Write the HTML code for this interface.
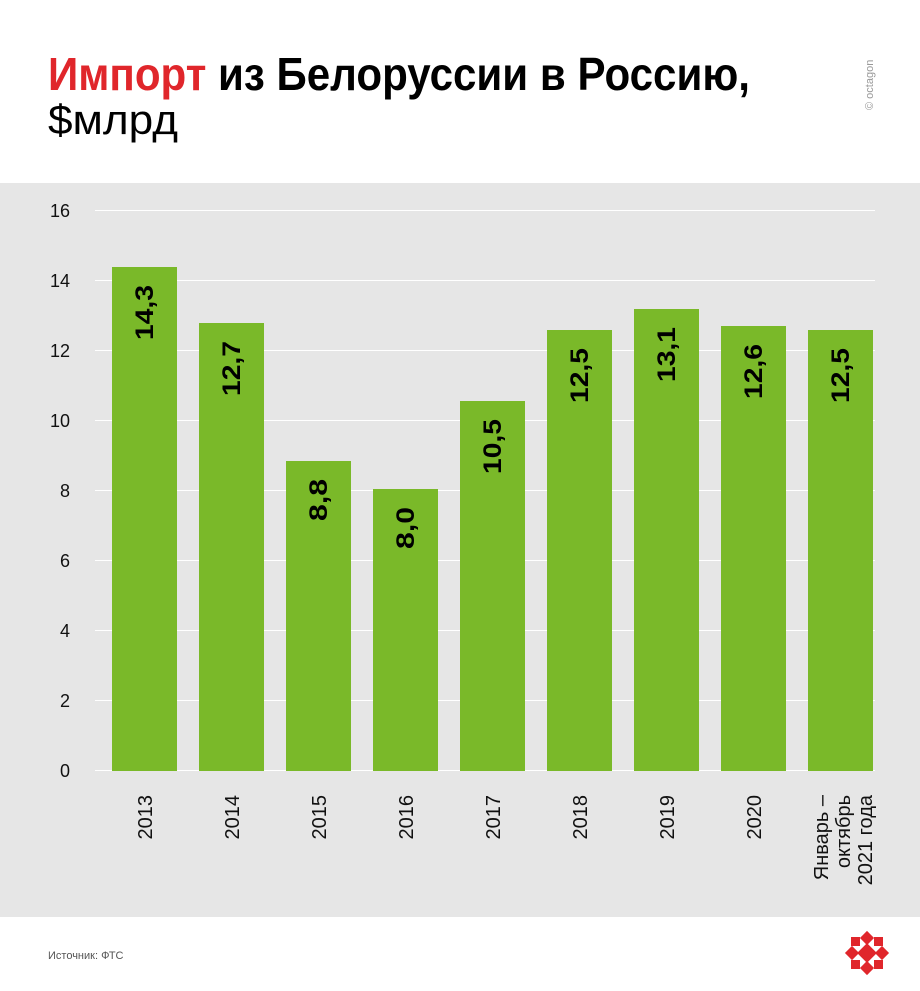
<!DOCTYPE html>
<html><head><meta charset="utf-8"><style>body{margin:0;background:#fff}svg{display:block}</style></head><body>
<svg width="920" height="991" xmlns="http://www.w3.org/2000/svg" font-family="Liberation Sans, sans-serif">
<rect width="920" height="991" fill="#fff"/>
<text x="48" y="90" font-size="46" font-weight="bold" textLength="702" lengthAdjust="spacingAndGlyphs"><tspan fill="#e0262b">Импорт</tspan><tspan fill="#000"> из Белоруссии в Россию,</tspan></text>
<text x="48" y="134" font-size="42" fill="#000" textLength="130" lengthAdjust="spacingAndGlyphs">$млрд</text>
<text transform="translate(873,110) rotate(-90)" font-size="11" fill="#999">© octagon</text>
<rect x="0" y="183" width="920" height="734" fill="#e6e6e6"/>
<g stroke="#fff" stroke-width="1">
<line x1="95" x2="875" y1="210.5" y2="210.5"/><line x1="95" x2="875" y1="280.5" y2="280.5"/><line x1="95" x2="875" y1="350.5" y2="350.5"/><line x1="95" x2="875" y1="420.5" y2="420.5"/><line x1="95" x2="875" y1="490.5" y2="490.5"/><line x1="95" x2="875" y1="560.5" y2="560.5"/><line x1="95" x2="875" y1="630.5" y2="630.5"/><line x1="95" x2="875" y1="700.5" y2="700.5"/><line x1="95" x2="875" y1="770.5" y2="770.5"/>
</g>
<g font-size="18" fill="#111" text-anchor="end">
<text x="70" y="217">16</text><text x="70" y="287">14</text><text x="70" y="357">12</text><text x="70" y="427">10</text><text x="70" y="497">8</text><text x="70" y="567">6</text><text x="70" y="637">4</text><text x="70" y="707">2</text><text x="70" y="777">0</text>
</g>
<g fill="#7ab929">
<rect x="112" y="267" width="65" height="504"/>
<rect x="199" y="323" width="65" height="448"/>
<rect x="286" y="461" width="65" height="310"/>
<rect x="373" y="489" width="65" height="282"/>
<rect x="460" y="401" width="65" height="370"/>
<rect x="547" y="330" width="65" height="441"/>
<rect x="634" y="309" width="65" height="462"/>
<rect x="721" y="326" width="65" height="445"/>
<rect x="808" y="330" width="65" height="441"/>
</g>
<g font-size="25" font-weight="bold" fill="#000" text-anchor="end">
<text transform="translate(153,285) rotate(-90)" textLength="55" lengthAdjust="spacingAndGlyphs">14,3</text>
<text transform="translate(240,341) rotate(-90)" textLength="55" lengthAdjust="spacingAndGlyphs">12,7</text>
<text transform="translate(327,479) rotate(-90)" textLength="42" lengthAdjust="spacingAndGlyphs">8,8</text>
<text transform="translate(414,507) rotate(-90)" textLength="42" lengthAdjust="spacingAndGlyphs">8,0</text>
<text transform="translate(501,419) rotate(-90)" textLength="55" lengthAdjust="spacingAndGlyphs">10,5</text>
<text transform="translate(588,348) rotate(-90)" textLength="55" lengthAdjust="spacingAndGlyphs">12,5</text>
<text transform="translate(675,327) rotate(-90)" textLength="55" lengthAdjust="spacingAndGlyphs">13,1</text>
<text transform="translate(762,344) rotate(-90)" textLength="55" lengthAdjust="spacingAndGlyphs">12,6</text>
<text transform="translate(849,348) rotate(-90)" textLength="55" lengthAdjust="spacingAndGlyphs">12,5</text>
</g>
<g font-size="20" fill="#111" text-anchor="end">
<text transform="translate(152,795) rotate(-90)">2013</text>
<text transform="translate(239,795) rotate(-90)">2014</text>
<text transform="translate(326,795) rotate(-90)">2015</text>
<text transform="translate(413,795) rotate(-90)">2016</text>
<text transform="translate(500,795) rotate(-90)">2017</text>
<text transform="translate(587,795) rotate(-90)">2018</text>
<text transform="translate(674,795) rotate(-90)">2019</text>
<text transform="translate(761,795) rotate(-90)">2020</text>
<text transform="translate(828,795) rotate(-90)">Январь –</text>
<text transform="translate(850,795) rotate(-90)">октябрь</text>
<text transform="translate(872,795) rotate(-90)">2021 года</text>
</g>
<text x="48" y="959" font-size="11" fill="#555">Источник: ФТС</text>
<g fill="#e0262b" transform="translate(867,953)">
<rect x="-7" y="-7" width="14" height="14" transform="rotate(45)"/>
<rect x="-5" y="-20" width="10" height="10" transform="rotate(45 0 -15)"/>
<rect x="-5" y="10" width="10" height="10" transform="rotate(45 0 15)"/>
<rect x="-20" y="-5" width="10" height="10" transform="rotate(45 -15 0)"/>
<rect x="10" y="-5" width="10" height="10" transform="rotate(45 15 0)"/>
<rect x="-16" y="-16" width="9" height="9"/>
<rect x="7" y="-16" width="9" height="9"/>
<rect x="-16" y="7" width="9" height="9"/>
<rect x="7" y="7" width="9" height="9"/>
</g>
</svg>
</body></html>
